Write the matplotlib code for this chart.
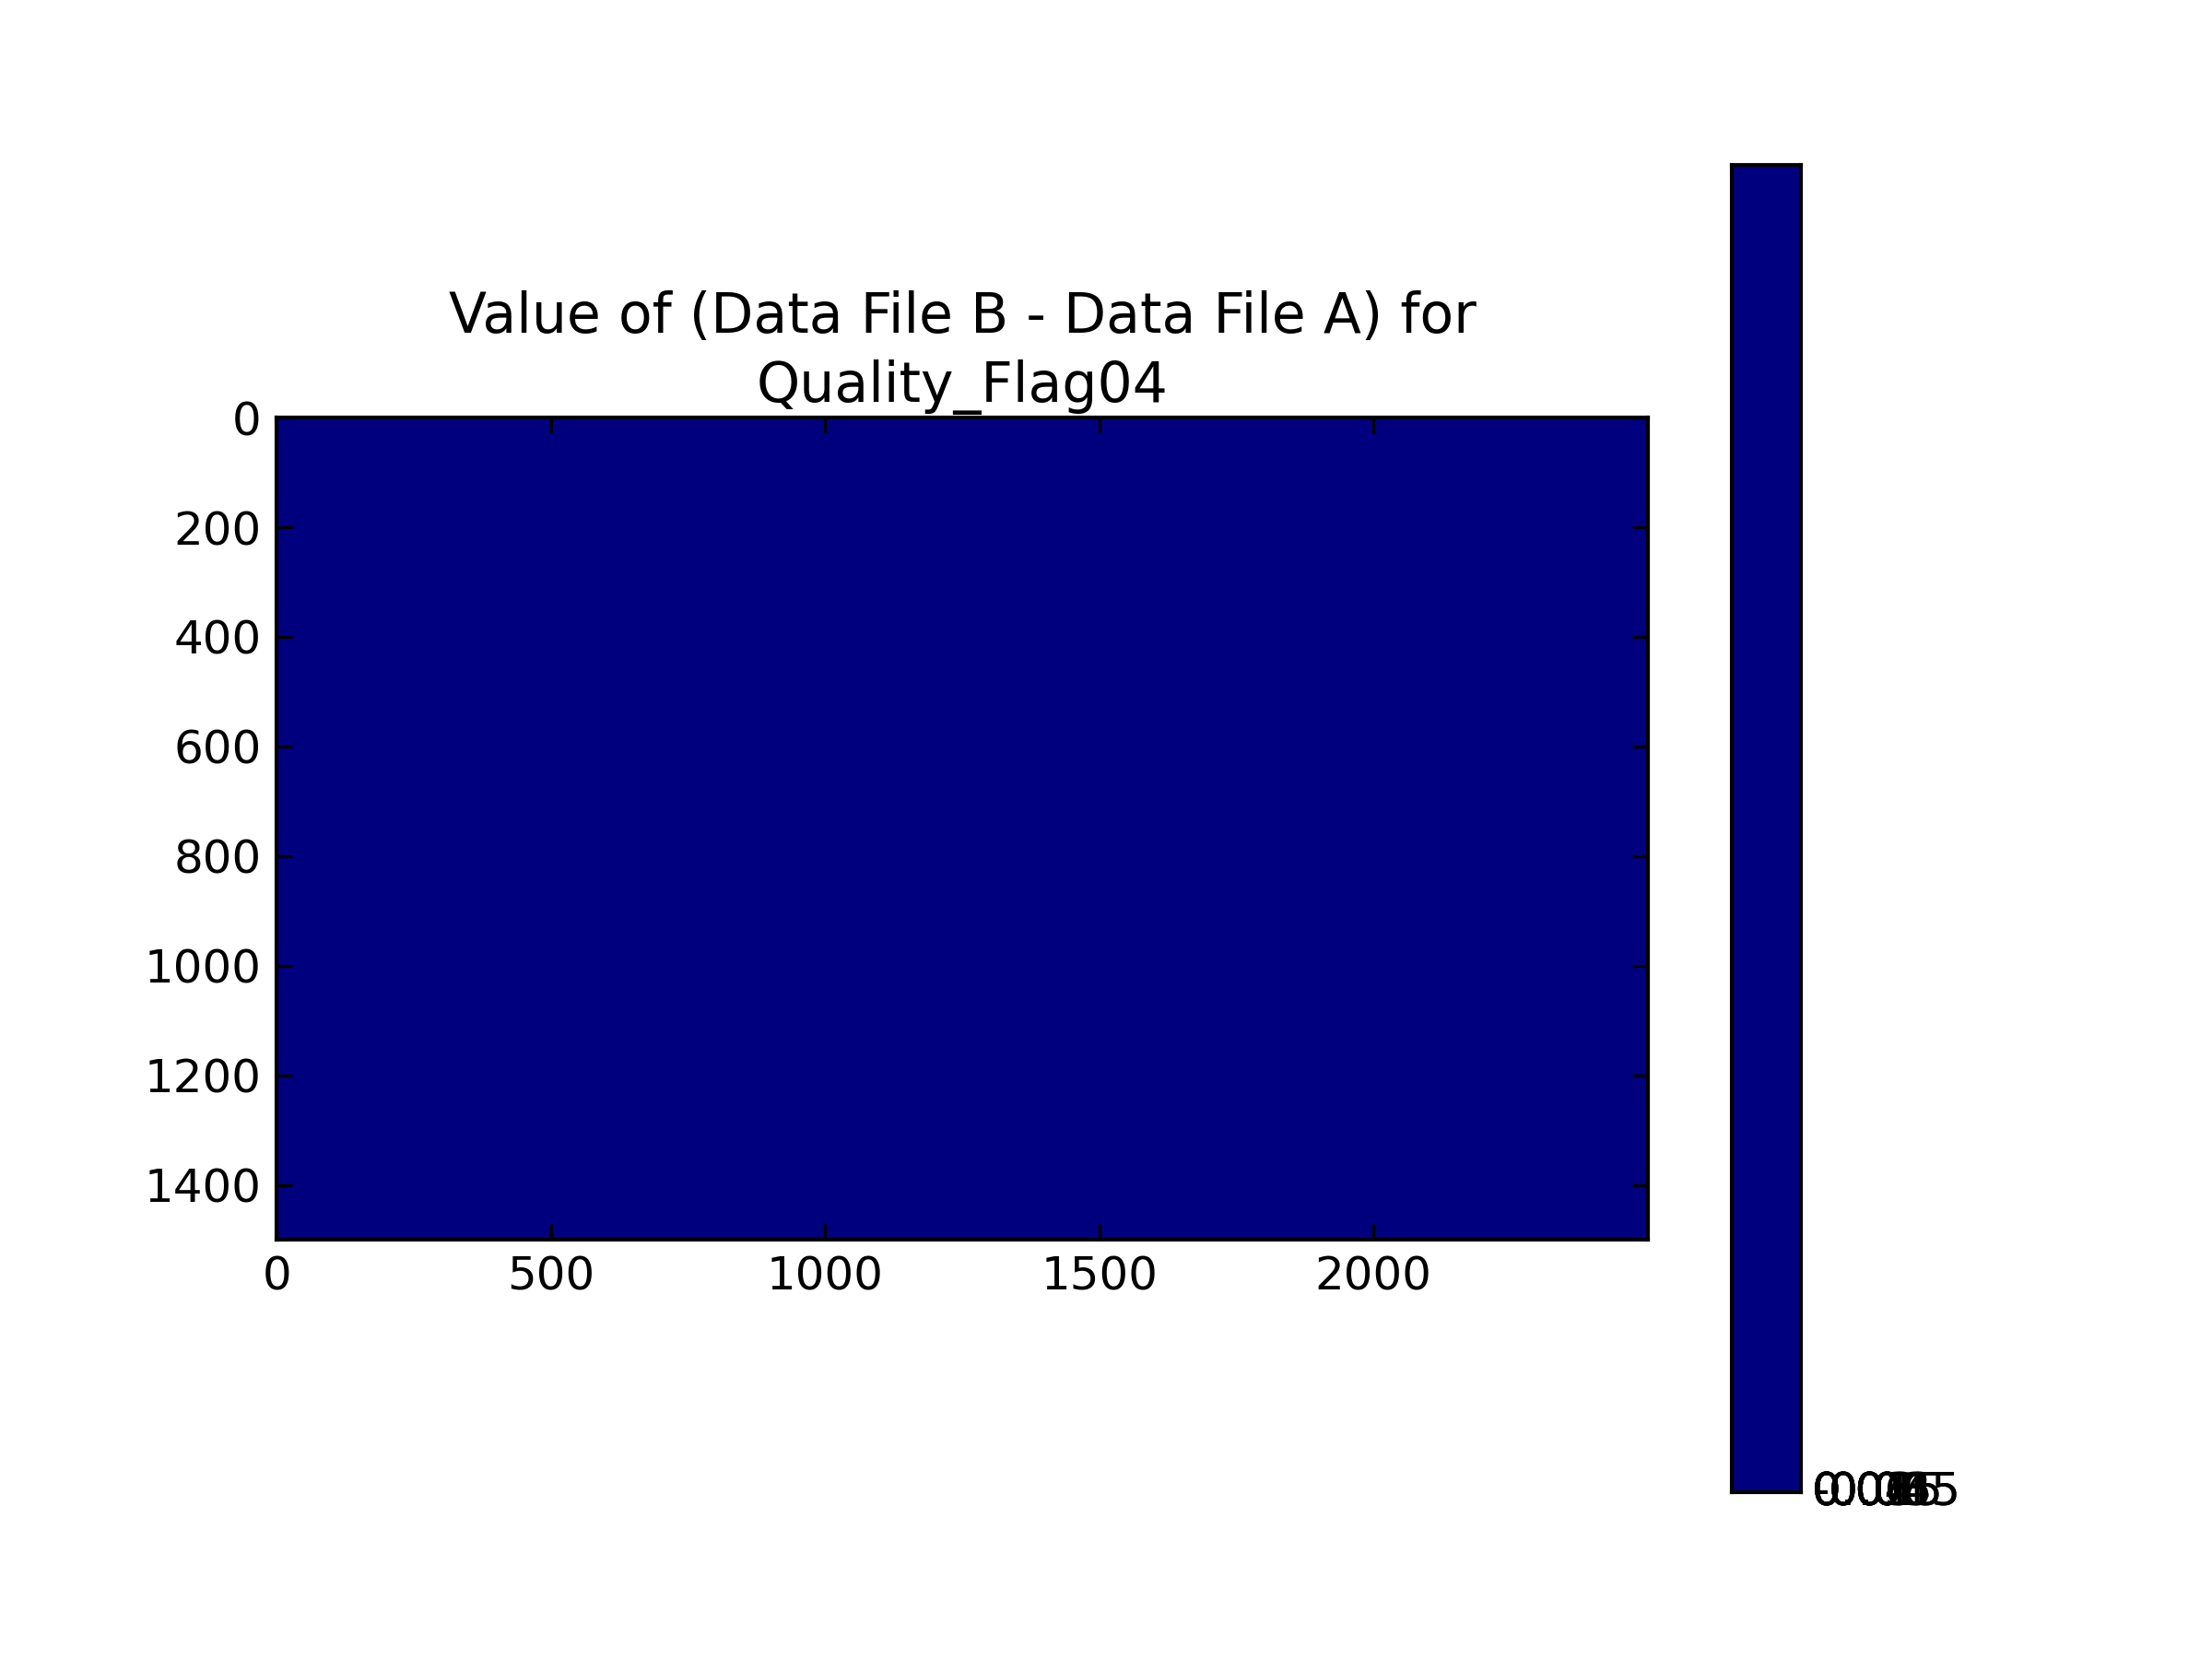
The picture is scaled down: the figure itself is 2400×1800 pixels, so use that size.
import numpy as np
import matplotlib
matplotlib.use("Agg")
import matplotlib.pyplot as plt
import matplotlib.transforms as mtransforms

# difference field (Data File B - Data File A), all zero
n_rows = 1500
n_cols = 2500
diff = np.zeros((n_rows, n_cols))

x_ticks = [0, 500, 1000, 1500, 2000]
y_ticks = [0, 200, 400, 600, 800, 1000, 1200, 1400]
cbar_labels = ["-0.06", "-0.045", "-0.03", "-0.015", "0.0", "0.015", "0.03", "0.045", "0.06"]

title = "Value of (Data File B - Data File A) for\nQuality_Flag04"

plt.rcParams["font.family"] = "DejaVu Sans"
plt.rcParams["font.size"] = 12
plt.rcParams["axes.linewidth"] = 1.0
plt.rcParams["xtick.direction"] = "in"
plt.rcParams["ytick.direction"] = "in"
plt.rcParams["xtick.top"] = True
plt.rcParams["ytick.right"] = True
plt.rcParams["xtick.major.size"] = 4
plt.rcParams["ytick.major.size"] = 4
plt.rcParams["xtick.major.pad"] = 4
plt.rcParams["ytick.major.pad"] = 4

fig = plt.figure(figsize=(8, 6), dpi=300, facecolor="white")
ax = fig.add_axes([0.125, 0.2526, 0.62, 0.4957])
ax.imshow(diff, cmap="jet", vmin=0, vmax=0, interpolation="nearest", aspect="equal")
ax.set_xlim(0, n_cols)
ax.set_ylim(n_rows, 0)
ax.set_xticks(x_ticks)
ax.set_yticks(y_ticks)
ax.set_title(title, fontsize=14.4, pad=4, linespacing=1.35)

# colorbar: constant field, every tick label collapses on the bottom edge
cax = fig.add_axes([0.783, 0.1003, 0.031, 0.8])
cax.imshow(np.zeros((10, 1)), cmap="jet", vmin=0, vmax=1, aspect="auto",
           extent=[0, 1, 0, 1], origin="lower")
cax.set_xlim(0, 1)
cax.set_ylim(0, 1)
cax.set_xticks([])
cax.set_yticks([])
lab_trans = mtransforms.offset_copy(cax.transAxes, fig=fig, x=3, y=0, units="points")
for lab in cbar_labels:
    cax.text(1, 0, lab, transform=lab_trans, ha="left", va="center", fontsize=12)

fig.savefig("out.png", dpi=300, facecolor="white")
